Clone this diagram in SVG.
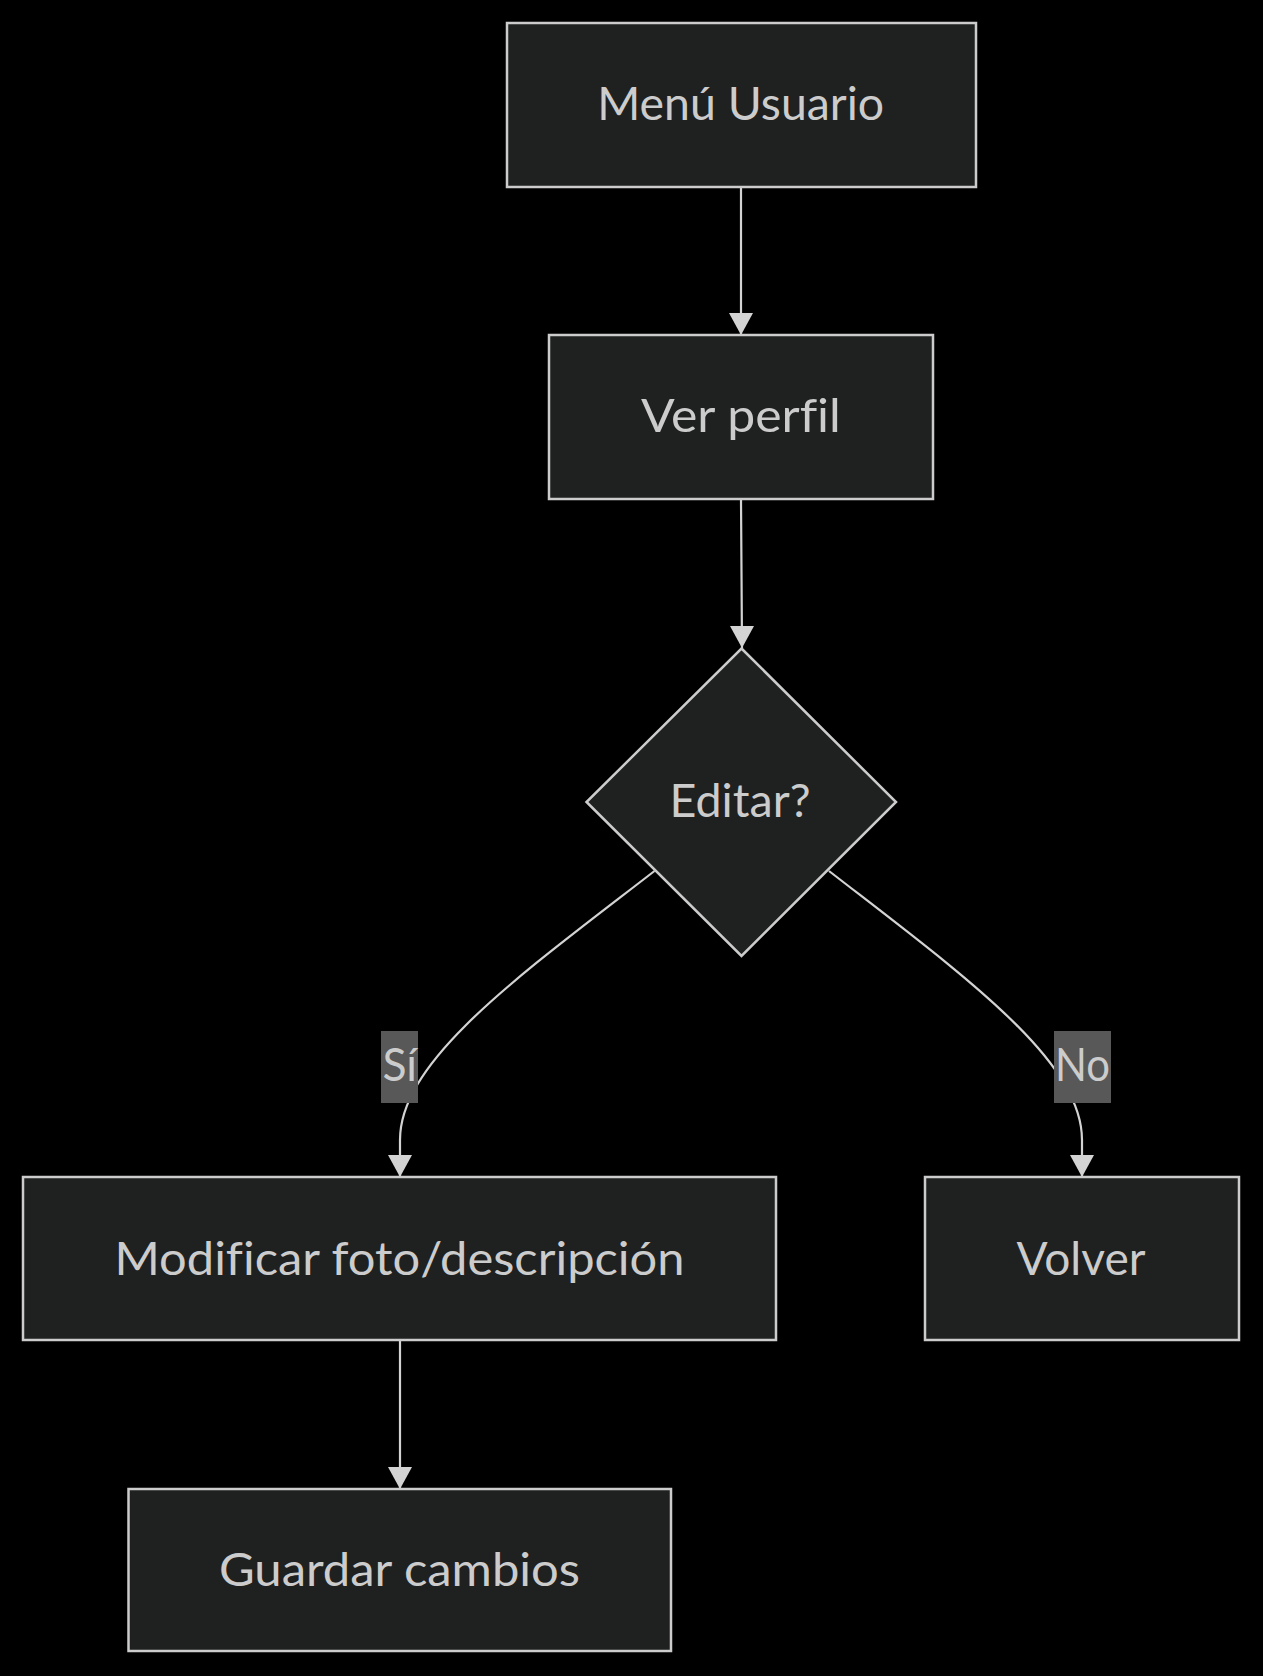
<svg xmlns="http://www.w3.org/2000/svg" width="1263" height="1676" viewBox="0 0 1263 1676">
  <defs>
    <style>
      .node rect, .node polygon { fill: #1f2020; stroke: #cccccc; stroke-width: 2.5; }
      .node text, .label text { font-family: Lato, "Liberation Sans", sans-serif; font-size: 47px; fill: #cccccc; text-anchor: middle; font-variant-ligatures: none; font-feature-settings: "liga" 0; }
      .edge { fill: none; stroke: #d3d3d3; stroke-width: 2.2; marker-end: url(#arrow); }
      .label rect { fill: #585858; stroke: none; }
    </style>
    <marker id="arrow" markerUnits="userSpaceOnUse" viewBox="0 0 22 24" refX="22" refY="12" markerWidth="22" markerHeight="24" orient="auto">
      <path d="M0,0 L22,12 L0,24 z" fill="#d3d3d3"/>
    </marker>
  </defs>
  <rect x="0" y="0" width="1263" height="1676" fill="#000000"/>

  <g id="connectors">
    <path class="edge" d="M741,187 L741,335"/>
    <path class="edge" d="M741,499 C741,560 742,590 742,648"/>
    <path class="edge" d="M654.5,871 C520,975 400,1060 400,1140 L400,1177"/>
    <path class="edge" d="M829,871 C963,975 1082,1060 1082,1140 L1082,1177"/>
    <path class="edge" d="M400,1340 L400,1489"/>
  </g>

  <g id="edge-labels">
    <g id="label-si" class="label">
      <rect x="381" y="1031" width="37" height="72"/>
      <text x="399.7" y="1081" textLength="34.6" lengthAdjust="spacingAndGlyphs">Sí</text>
    </g>
    <g id="label-no" class="label">
      <rect x="1054" y="1031" width="57" height="72"/>
      <text x="1082.5" y="1081" textLength="55" lengthAdjust="spacingAndGlyphs">No</text>
    </g>
  </g>

  <g id="menu-usuario" class="node">
    <rect x="507" y="23" width="469" height="164"/>
    <text x="740.7" y="119.5" textLength="287" lengthAdjust="spacingAndGlyphs">Menú Usuario</text>
  </g>
  <g id="ver-perfil" class="node">
    <rect x="549" y="335" width="384" height="164"/>
    <text x="740.9" y="432" textLength="200" lengthAdjust="spacingAndGlyphs">Ver perfil</text>
  </g>
  <g id="editar" class="node">
    <polygon points="741.5,648.5 896,802 741.5,956 586.5,802"/>
    <text x="740" y="816.5" textLength="141" lengthAdjust="spacingAndGlyphs">Editar?</text>
  </g>
  <g id="modificar" class="node">
    <rect x="23" y="1177" width="753" height="163"/>
    <text x="399.5" y="1275" textLength="570" lengthAdjust="spacingAndGlyphs">Modificar foto/descripción</text>
  </g>
  <g id="volver" class="node">
    <rect x="925" y="1177" width="314" height="163"/>
    <text x="1081" y="1275" textLength="129" lengthAdjust="spacingAndGlyphs">Volver</text>
  </g>
  <g id="guardar" class="node">
    <rect x="128.5" y="1489" width="542.5" height="162"/>
    <text x="399.5" y="1586" textLength="361" lengthAdjust="spacingAndGlyphs">Guardar cambios</text>
  </g>
</svg>
